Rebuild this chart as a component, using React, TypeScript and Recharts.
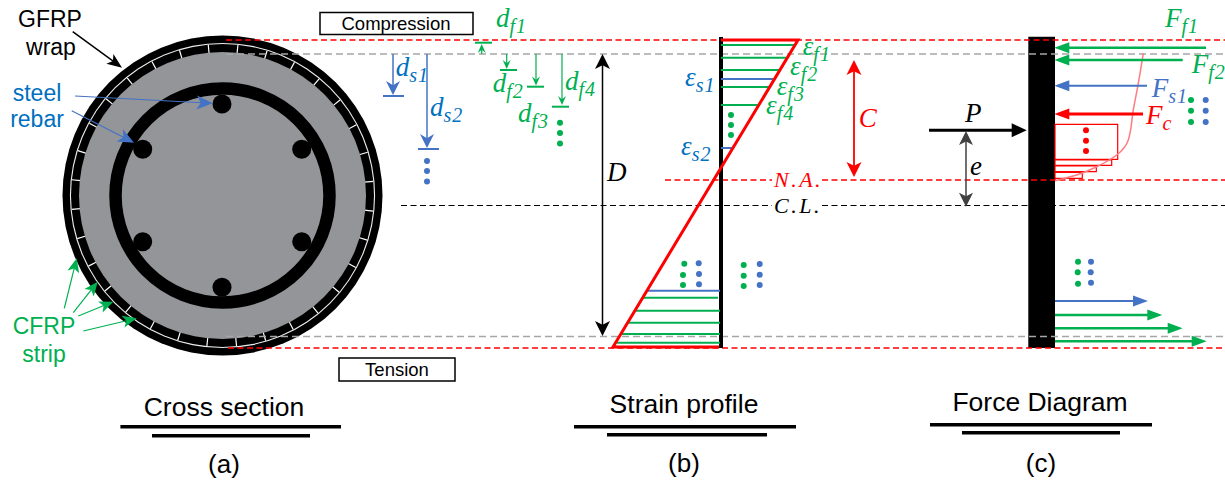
import React from 'react';
import { ComposedChart, XAxis, YAxis, Line, Scatter, ReferenceLine, ReferenceArea, ReferenceDot } from 'recharts';

const WIDTH = 1225;
const HEIGHT = 480;

const GREEN = '#00B050';
const BLUE = '#4472C4';
const TEXT_BLUE = '#0070C0';
const RED = '#FF0000';
const GREY = '#A6A6A6';
const SANS = '"Liberation Sans", Arial, sans-serif';
const MATH = '"Liberation Serif", serif';

type Row = [number, number, number, number];

// cross section
const sectionCenter = { x: 222.5, y: 195.5 };
const rebars = [
  { x: 222, y: 104 },
  { x: 142.7, y: 149.3 },
  { x: 301.7, y: 149.3 },
  { x: 142.7, y: 241.7 },
  { x: 301.7, y: 241.7 },
  { x: 222, y: 287.3 },
];

// guide lines: x1, y, x2
const redGuides = [
  [226, 40, 1225],
  [228, 348, 1225],
  [665, 180, 772],
  [822, 180, 1225],
];
const greyGuides = [
  [226, 54, 1225],
  [226, 336.5, 1225],
];
const centerGuides = [
  [401, 205.5, 772],
  [822, 205.5, 1225],
];

// strain profile
const strainProfile = [
  { x: 721, y: 40 },
  { x: 798, y: 40 },
  { x: 613, y: 347 },
  { x: 719, y: 347 },
];
const frpStrains = [
  [721, 45, 795.7],
  [721, 57.7, 787.3],
  [721, 70, 780.7],
  [721, 87, 769.3],
  [721, 105, 757.7],
  [643, 297.7, 718],
  [636, 310.7, 720],
  [629, 322.7, 720],
  [622, 334, 720],
  [617, 342.7, 720],
];
const steelStrains = [
  [721, 79, 773],
  [721, 148, 733],
  [648, 290.7, 720],
];

// depth ticks: x1, y, x2
const steelTicks = [
  [383, 96, 404],
  [418, 149, 439],
];
const frpTicks = [
  [475, 42.7, 492],
  [500, 70, 517],
  [527, 86.7, 544],
  [552, 106.7, 569],
];

// leaders and dimension arrows: x1, y1, x2, y2 (tip)
const gfrpLeader: Row[] = [[72.7, 31.7, 122, 67.7]];
const rebarLeaders: Row[] = [
  [75, 96, 212.7, 103.3],
  [71.7, 110.7, 134, 142.7],
];
const cfrpLeaders: Row[] = [
  [64.3, 308.3, 76.7, 258.3],
  [73.3, 312.7, 97.7, 281.7],
  [78.3, 316, 113.3, 301.7],
  [83.3, 331, 136.7, 318.3],
];
const steelDepths: Row[] = [
  [393, 54, 393, 95],
  [427, 54, 427, 148],
];
const frpDepths: Row[] = [
  [481.7, 54, 481.7, 44],
  [506.7, 54, 506.7, 69],
  [536, 54, 536, 85.5],
  [562, 54, 562, 105],
];
const sectionDepth: Row[] = [[602.5, 54, 602.5, 336]];
const neutralDepth: Row[] = [[854, 60, 854, 177]];
const eccentricity: Row[] = [[966, 131, 966, 206.7]];
const axialLoad: Row[] = [[929, 130.3, 1026.7, 130.3]];

// forces
const frpForces: Row[] = [
  [1206, 47.7, 1054.3, 47.7],
  [1182.7, 60, 1054.3, 60],
  [1055, 315, 1162.3, 315],
  [1055, 328.3, 1182.7, 328.3],
  [1055, 341.3, 1206.7, 341.3],
];
const steelForces: Row[] = [
  [1147, 85.7, 1054.3, 85.7],
  [1055, 301, 1148, 301],
];
const concreteForce: Row[] = [[1143, 114, 1054.3, 114]];

const stressCurve = [
  { x: 1143.3, y: 53.3 },
  { x: 1138.3, y: 83.3 },
  { x: 1133.3, y: 110 },
  { x: 1128.3, y: 140 },
  { x: 1116.7, y: 155 },
  { x: 1096.7, y: 166.7 },
  { x: 1076.7, y: 175 },
  { x: 1055, y: 180.7 },
];
// x1, y1, x2, y2
const stressBlocks = [
  [1055, 124.3, 1117.7, 159.3],
  [1055, 160, 1111.7, 165.3],
  [1055, 166, 1096.3, 171.7],
  [1055, 172.3, 1082.3, 178.3],
];

const greenDots = [
  [560, 122.7], [560, 133], [560, 143.5],
  [731, 115], [731, 125], [731, 135],
  [684.3, 263.7], [683, 275], [683, 285],
  [743.7, 265], [743.7, 275.7], [743.7, 286],
  [1191, 100], [1191, 110.7], [1191, 122],
  [1078, 261.7], [1077.7, 272.3], [1078, 283.7],
];
const blueDots = [
  [427, 161], [427, 171], [427, 181.5],
  [698.7, 263.3], [699, 274], [699, 284.3],
  [759.7, 264], [759.7, 274.7], [759.7, 285],
  [1205.7, 100], [1205.7, 110.7], [1205.7, 122],
  [1091, 261.7], [1090.7, 272.3], [1091, 282.7],
];
const redDots = [
  [1086, 130.3], [1086, 140.7], [1086, 151],
];

const captionRules = [
  [120.4, 426.7, 341],
  [152, 435.7, 310],
  [574, 426.7, 796],
  [607, 434.7, 767],
  [930, 424.7, 1152],
  [962, 432.7, 1120],
];

// x, y, text, colour, size
const plainLabels: [number, number, string, string, number][] = [
  [50, 26.7, 'GFRP', '#000', 23],
  [51, 55, 'wrap', '#000', 23],
  [37, 100.7, 'steel', TEXT_BLUE, 23],
  [37, 127, 'rebar', TEXT_BLUE, 23],
  [44, 334, 'CFRP', GREEN, 23],
  [44, 361.7, 'strip', GREEN, 23],
  [396, 30, 'Compression', '#000', 18.5],
  [397, 375.5, 'Tension', '#000', 18.5],
  [224, 416, 'Cross section', '#000', 26.5],
  [684, 413, 'Strain profile', '#000', 26.5],
  [1040, 411, 'Force Diagram', '#000', 26.5],
  [224, 473, '(a)', '#000', 26],
  [684, 472, '(b)', '#000', 26],
  [1041, 472, '(c)', '#000', 26],
];

// x, baseline, symbol, subscript, colour
const mathLabels: [number, number, string, string, string][] = [
  [395.7, 76, 'd', 's1', TEXT_BLUE],
  [430, 116, 'd', 's2', TEXT_BLUE],
  [496, 26.7, 'd', 'f1', GREEN],
  [492.7, 91.7, 'd', 'f2', GREEN],
  [518, 121.7, 'd', 'f3', GREEN],
  [565, 90, 'd', 'f4', GREEN],
  [607, 181, 'D', '', '#000'],
  [802.7, 55, 'ε', 'f1', GREEN],
  [790, 75, 'ε', 'f2', GREEN],
  [776.7, 95, 'ε', 'f3', GREEN],
  [766, 114, 'ε', 'f4', GREEN],
  [685, 86, 'ε', 's1', TEXT_BLUE],
  [681, 155, 'ε', 's2', TEXT_BLUE],
  [858.7, 126.7, 'C', '', RED],
  [774, 187, 'N.A.', '', RED],
  [774, 213, 'C.L.', '', '#000'],
  [1165, 27, 'F', 'f1', GREEN],
  [1191.7, 73, 'F', 'f2', GREEN],
  [1151.7, 97, 'F', 's1', BLUE],
  [1146, 124, 'F', 'c', RED],
  [965, 121.7, 'P', '', '#000'],
  [970, 175, 'e', '', '#000'],
];

const arrowGroups = [
  { rows: gfrpLeader, color: '#000', width: 1.5, len: 15, half: 6, notch: 0.75, both: false },
  { rows: rebarLeaders, color: BLUE, width: 1.2, len: 16, half: 7, notch: 0.75, both: false },
  { rows: cfrpLeaders, color: GREEN, width: 1.2, len: 14, half: 6, notch: 0.75, both: false },
  { rows: steelDepths, color: BLUE, width: 1.5, len: 14, half: 7, notch: 0.7, both: false },
  { rows: frpDepths, color: GREEN, width: 1.2, len: 9, half: 4, notch: 0.65, both: false },
  { rows: sectionDepth, color: '#000', width: 1.5, len: 15, half: 7.5, notch: 0.75, both: true },
  { rows: neutralDepth, color: RED, width: 1.8, len: 15, half: 7.5, notch: 0.75, both: true },
  { rows: eccentricity, color: '#404040', width: 1.5, len: 14, half: 7, notch: 0.75, both: true },
  { rows: axialLoad, color: '#000', width: 3, len: 15, half: 7, notch: 1, both: false },
  { rows: frpForces, color: GREEN, width: 2.5, len: 15, half: 5.5, notch: 1, both: false },
  { rows: steelForces, color: BLUE, width: 2, len: 15, half: 5.5, notch: 1, both: false },
  { rows: concreteForce, color: RED, width: 3, len: 15, half: 5.5, notch: 1, both: false },
];

const toDots = (rows: number[][]) => rows.map(([x, y]) => ({ x, y }));

const arrowParts = arrowGroups.flatMap(g =>
  g.rows.map(([x1, y1, x2, y2]) => {
    const angle = Math.atan2(y2 - y1, x2 - x1);
    const ux = Math.cos(angle);
    const uy = Math.sin(angle);
    const back = g.len * g.notch * 0.9;
    return {
      color: g.color,
      width: g.width,
      shaft: [
        g.both ? { x: x1 + ux * back, y: y1 + uy * back } : { x: x1, y: y1 },
        { x: x2 - ux * back, y: y2 - uy * back },
      ],
      heads: [
        { x: x2, y: y2, angle, len: g.len, half: g.half, notch: g.notch, color: g.color },
        ...(g.both ? [{ x: x1, y: y1, angle: angle + Math.PI, len: g.len, half: g.half, notch: g.notch, color: g.color }] : []),
      ],
    };
  }),
);
const arrowHeads = arrowParts.flatMap(a => a.heads);

const plainData = plainLabels.map(([x, y, text, color, size]) => ({ x, y, text, color, size }));
const mathData = mathLabels.map(([x, y, main, sub, color]) => ({ x, y, main, sub, color }));

const SectionShape = ({ cx, cy }: any) => {
  const strips = 32;
  const c = 2 * Math.PI * 147;
  const pitch = c / strips;
  return (
    <g>
      <circle cx={cx} cy={cy} r={160} fill="#000" />
      <circle cx={cx} cy={cy} r={152.6} fill="#eee" />
      <circle cx={cx} cy={cy} r={151.5} fill="#000" />
      <circle
        cx={cx}
        cy={cy}
        r={147}
        fill="none"
        stroke="#fff"
        strokeWidth={9}
        strokeDasharray={`1.2 ${pitch - 1.2}`}
        transform={`rotate(${-90 - 180 / strips} ${cx} ${cy})`}
      />
      <circle cx={cx} cy={cy} r={143.5} fill="#939598" />
      <circle cx={cx} cy={cy} r={107} fill="none" stroke="#000" strokeWidth={12.5} />
      {rebars.map((b, i) => (
        <circle key={i} cx={cx + b.x - sectionCenter.x} cy={cy + b.y - sectionCenter.y} r={9.5} fill="#000" />
      ))}
    </g>
  );
};

const DotShape = ({ cx, cy, r, color }: any) => <circle cx={cx} cy={cy} r={r} fill={color} />;

const HeadShape = ({ cx, cy, payload }: any) => {
  const { angle, len, half, notch, color } = payload;
  return (
    <polygon
      points={`0,0 ${-len},${-half} ${-len * notch},0 ${-len},${half}`}
      fill={color}
      transform={`translate(${cx} ${cy}) rotate(${(angle * 180) / Math.PI})`}
    />
  );
};

const PlainText = ({ cx, cy, payload }: any) => (
  <text x={cx} y={cy} textAnchor="middle" fontFamily={SANS} fontSize={payload.size} fill={payload.color}>
    {payload.text}
  </text>
);

const MathText = ({ cx, cy, payload }: any) => {
  // N.A. and C.L. sit close together, so they are set a little smaller and wider
  const isWord = payload.main.length > 1;
  return (
    <text
      x={cx}
      y={cy}
      fontFamily={MATH}
      fontStyle="italic"
      fontSize={isWord ? 22 : 27}
      letterSpacing={isWord ? 2.5 : 0}
      fill={payload.color}
    >
      {payload.main}
      {payload.sub ? (
        <tspan dy={6} fontSize={20} letterSpacing={1}>
          {payload.sub}
        </tspan>
      ) : null}
    </text>
  );
};

export default function App() {
  return (
    <div style={{ position: 'absolute', left: 0, top: 0, width: WIDTH, height: HEIGHT, background: '#fff' }}>
      <ComposedChart width={WIDTH} height={HEIGHT} margin={{ top: 0, right: 0, bottom: 0, left: 0 }}>
        <XAxis dataKey="x" type="number" domain={[0, WIDTH]} hide allowDataOverflow />
        <YAxis dataKey="y" type="number" domain={[0, HEIGHT]} reversed hide allowDataOverflow />

        {/* Cross section, first so that the guides and leaders sit on top of it */}
        <ReferenceDot x={sectionCenter.x} y={sectionCenter.y} r={160} shape={SectionShape} zIndex={50} />

        {/* Guides */}
        {redGuides.map(([x1, y, x2], i) => (
          <ReferenceLine key={`r${i}`} segment={[{ x: x1, y }, { x: x2, y }]} stroke={RED} strokeWidth={1.4} strokeDasharray="6 3.5" />
        ))}
        {greyGuides.map(([x1, y, x2], i) => (
          <ReferenceLine key={`g${i}`} segment={[{ x: x1, y }, { x: x2, y }]} stroke={GREY} strokeWidth={1.3} strokeDasharray="7 4" />
        ))}
        {centerGuides.map(([x1, y, x2], i) => (
          <ReferenceLine key={`c${i}`} segment={[{ x: x1, y }, { x: x2, y }]} stroke="#000" strokeWidth={1.2} strokeDasharray="6 3.5" />
        ))}

        {/* Label boxes */}
        <ReferenceArea x1={320} x2={473} y1={12.5} y2={34.5} fill="#fff" fillOpacity={1} stroke="#000" strokeWidth={1.5} />
        <ReferenceArea x1={339} x2={455} y1={358} y2={381} fill="#fff" fillOpacity={1} stroke="#000" strokeWidth={1.5} />

        {/* Strain profile */}
        <ReferenceLine segment={[{ x: 721, y: 37 }, { x: 721, y: 348 }]} stroke="#000" strokeWidth={4} />
        {frpStrains.map(([x1, y, x2], i) => (
          <ReferenceLine key={`fs${i}`} segment={[{ x: x1, y }, { x: x2, y }]} stroke={GREEN} strokeWidth={2} />
        ))}
        {steelStrains.map(([x1, y, x2], i) => (
          <ReferenceLine key={`ss${i}`} segment={[{ x: x1, y }, { x: x2, y }]} stroke={BLUE} strokeWidth={2} />
        ))}
        <Line data={strainProfile} dataKey="y" stroke={RED} strokeWidth={3} dot={false} activeDot={false} isAnimationActive={false} />

        {/* Depth ticks */}
        {steelTicks.map(([x1, y, x2], i) => (
          <ReferenceLine key={`st${i}`} segment={[{ x: x1, y }, { x: x2, y }]} stroke={BLUE} strokeWidth={2} />
        ))}
        {frpTicks.map(([x1, y, x2], i) => (
          <ReferenceLine key={`ft${i}`} segment={[{ x: x1, y }, { x: x2, y }]} stroke={GREEN} strokeWidth={2} />
        ))}

        {/* Force diagram */}
        <ReferenceArea x1={1028.3} x2={1055} y1={36.7} y2={348} fill="#000" fillOpacity={1} stroke="none" />
        {stressBlocks.map(([x1, y1, x2, y2], i) => (
          <ReferenceArea key={`b${i}`} x1={x1} x2={x2} y1={y1} y2={y2} fill="none" stroke={RED} strokeWidth={1.2} />
        ))}
        <Line data={stressCurve} dataKey="y" type="monotoneY" stroke="#FF7C80" strokeWidth={1.5} dot={false} activeDot={false} isAnimationActive={false} />

        {/* Arrows */}
        {arrowParts.map((a, i) => (
          <ReferenceLine key={`a${i}`} segment={a.shaft} stroke={a.color} strokeWidth={a.width} />
        ))}
        <Scatter data={arrowHeads} shape={HeadShape} isAnimationActive={false} />

        {/* Dots */}
        <Scatter data={toDots(greenDots)} shape={(p: any) => <DotShape {...p} r={3} color={GREEN} />} isAnimationActive={false} />
        <Scatter data={toDots(blueDots)} shape={(p: any) => <DotShape {...p} r={3} color={BLUE} />} isAnimationActive={false} />
        <Scatter data={toDots(redDots)} shape={(p: any) => <DotShape {...p} r={3} color={RED} />} isAnimationActive={false} />

        {/* Caption rules */}
        {captionRules.map(([x1, y, x2], i) => (
          <ReferenceLine key={`u${i}`} segment={[{ x: x1, y }, { x: x2, y }]} stroke="#000" strokeWidth={3.5} />
        ))}

        {/* Text */}
        <Scatter data={plainData} shape={PlainText} isAnimationActive={false} />
        <Scatter data={mathData} shape={MathText} isAnimationActive={false} />
      </ComposedChart>
    </div>
  );
}
